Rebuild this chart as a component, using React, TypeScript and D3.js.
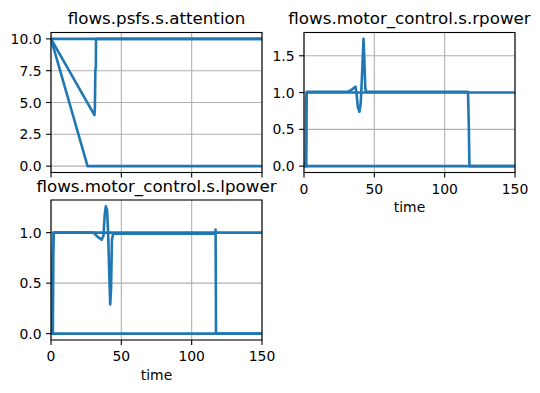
import React from 'react';
import * as d3 from 'd3';

// time ticks shared by all panels
const timeTicks = [0, 50, 100, 150];

// flows.psfs.s.attention
const attentionConst = [[0, 10], [150, 10]];
const attentionDecay = [[0, 10], [30.9, 4], [31.2, 4.6], [31.5, 7.4], [31.9, 7.9], [32, 10], [150, 10]];
const attentionDrop = [[0, 10], [26, 0], [150, 0]];
const attentionTicks = [0, 2.5, 5, 7.5, 10];

// flows.motor_control.s.rpower
const rpowerOsc = [
  [0, 0], [1.2, 0.05], [1.5, 0.9], [2, 1.01], [31, 1.01], [34, 1.04], [36.6, 1.08], [37.3, 1.0],
  [38.3, 0.8], [39.4, 0.74], [40.3, 0.85], [41.4, 1.3], [42.3, 1.73], [42.8, 1.5], [43.6, 1.05],
  [44.3, 1.01], [116.6, 1.01], [117.2, 0.5], [117.6, 0], [150, 0],
];
const rpowerOne = [[0, 0], [1.6, 0], [1.9, 1.0], [150, 1.0]];
const rpowerZero = [[0, 0], [150, 0]];
const rpowerTicks = [0, 0.5, 1.0, 1.5];

// flows.motor_control.s.lpower
const lpowerOsc = [
  [0, 0], [0.6, 0.1], [1.2, 0.8], [2, 1.0], [30.2, 1.0], [33, 0.96], [36, 0.93], [37.3, 0.97],
  [38.2, 1.18], [39, 1.26], [39.9, 1.22], [40.6, 1.0], [41.4, 0.6], [42.1, 0.29], [42.7, 0.45],
  [43.3, 0.93], [44.2, 0.99], [116.8, 0.99], [117, 1.03], [117.2, 0.4], [117.3, 0], [150, 0],
];
const lpowerOne = [[0, 0], [1.3, 0], [1.8, 1.0], [150, 1.0]];
const lpowerZero = [[0, 0], [150, 0]];
const lpowerTicks = [0, 0.5, 1.0];

const panels = [
  { title: 'flows.psfs.s.attention', left: 51, top: 32.5, series: [attentionConst, attentionDecay, attentionDrop], yTicks: attentionTicks, fmt: '.1f', xLabels: false },
  { title: 'flows.motor_control.s.rpower', left: 304, top: 32.5, series: [rpowerZero, rpowerOne, rpowerOsc], yTicks: rpowerTicks, fmt: '.1f', xLabels: true },
  { title: 'flows.motor_control.s.lpower', left: 51, top: 200, series: [lpowerZero, lpowerOne, lpowerOsc], yTicks: lpowerTicks, fmt: '.1f', xLabels: true },
];

const W = 211;
const H = 140;
const color = '#1f77b4';
const font = 'DejaVu Sans, sans-serif';

function Panel({ p, idx }: { p: any; idx: number }) {
  const x = d3.scaleLinear().domain([0, 150]).range([0, W]);
  const ys = p.series.flat().map((d: number[]) => d[1]);
  const [lo, hi] = d3.extent(ys) as [number, number];
  const pad = (hi - lo) * 0.05;
  const y = d3.scaleLinear().domain([lo - pad, hi + pad]).range([H, 0]);
  const line = d3.line<number[]>().x(d => x(d[0])).y(d => y(d[1]));
  const fmt = d3.format(p.fmt);
  const clipId = `clip${idx}`;
  return (
    <g transform={`translate(${p.left},${p.top})`}>
      <defs>
        <clipPath id={clipId}><rect x={0} y={0} width={W} height={H} /></clipPath>
      </defs>
      {timeTicks.map(t => (
        <line key={'gx' + t} x1={x(t)} x2={x(t)} y1={0} y2={H} stroke="#b0b0b0" strokeWidth={1.1} />
      ))}
      {p.yTicks.map((t: number) => (
        <line key={'gy' + t} x1={0} x2={W} y1={y(t)} y2={y(t)} stroke="#b0b0b0" strokeWidth={1.1} />
      ))}
      <g clipPath={`url(#${clipId})`}>
        {p.series.map((s: number[][], i: number) => (
          <path key={i} d={line(s) || ''} fill="none" stroke={color} strokeWidth={2.6} strokeLinejoin="round" />
        ))}
      </g>
      <rect x={0} y={0} width={W} height={H} fill="none" stroke="#000" strokeWidth={1.1} />
      {timeTicks.map(t => (
        <g key={'tx' + t}>
          <line x1={x(t)} x2={x(t)} y1={H} y2={H + 4.9} stroke="#000" strokeWidth={1.1} />
          {p.xLabels && (
            <text x={x(t)} y={H + 21} textAnchor="middle" fontSize={13.9} fontFamily={font}>{t}</text>
          )}
        </g>
      ))}
      {p.yTicks.map((t: number) => (
        <g key={'ty' + t}>
          <line x1={-4.9} x2={0} y1={y(t)} y2={y(t)} stroke="#000" strokeWidth={1.1} />
          <text x={-9.5} y={y(t) + 5} textAnchor="end" fontSize={13.9} fontFamily={font}>{fmt(t)}</text>
        </g>
      ))}
      {p.xLabels && (
        <text x={W / 2} y={H + 39.5} textAnchor="middle" fontSize={13.9} fontFamily={font}>time</text>
      )}
      <text x={W / 2} y={-8.5} textAnchor="middle" fontSize={16.7} fontFamily={font}>{p.title}</text>
    </g>
  );
}

export default function App() {
  return (
    <svg width={540} height={393} style={{ position: 'absolute', left: 0, top: 0, background: '#fff' }}>
      {panels.map((p, i) => <Panel key={i} p={p} idx={i} />)}
    </svg>
  );
}
